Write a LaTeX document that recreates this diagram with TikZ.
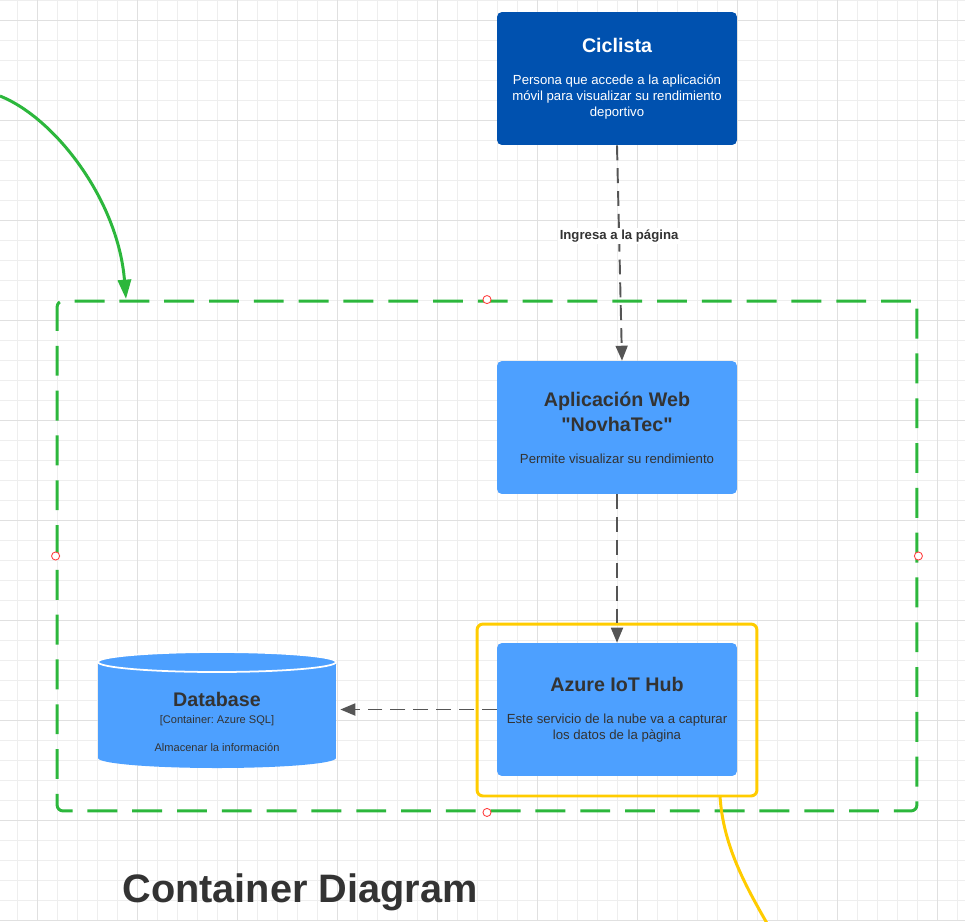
\documentclass[tikz,border=0pt]{standalone}
\usepackage{fontspec}
\setmainfont{Liberation Sans}[Ligatures=TeXOff]
\usetikzlibrary{arrows.meta, positioning, calc}

\definecolor{cicBlue}{RGB}{0,81,175}
\definecolor{boxBlue}{RGB}{77,160,255}
\definecolor{txtDark}{RGB}{51,51,51}
\definecolor{frameGreen}{RGB}{44,183,60}
\definecolor{hubYellow}{RGB}{255,204,0}
\definecolor{lineGray}{RGB}{85,85,85}
\definecolor{gridMinor}{RGB}{238,238,238}
\definecolor{gridMajor}{RGB}{224,224,224}

\newcommand{\bodyfont}{\fontsize{7.5}{9.1}\selectfont}
\newcommand{\headfont}{\fontsize{11.2}{14.2}\selectfont\bfseries}
\newcommand{\smallfont}{\fontsize{6.3}{7.6}\selectfont}
\frenchspacing

\begin{document}
\begin{tikzpicture}[x=0.02cm, y=-0.02cm,
                grid minor/.style={draw=gridMinor, line width=0.45pt},
                grid major/.style={draw=gridMajor, line width=0.45pt},
                person box/.style={rectangle, rounded corners=2.8pt, fill=cicBlue, text=white,
                    minimum width=4.8cm, minimum height=2.66cm, align=center, font=\bodyfont, inner sep=0pt},
                container box/.style={person box, fill=boxBlue, text=txtDark},
                boundary/.style={draw=frameGreen, line width=1.7pt, dash pattern=on 17pt off 8.5pt,
                    rounded corners=3.4pt, minimum width=17.2cm, minimum height=10.2cm},
                focus frame/.style={draw=hubYellow, line width=1.7pt, rounded corners=3.4pt,
                    minimum width=5.6cm, minimum height=3.44cm},
                flow/.style={draw=lineGray, line width=1.1pt, dash pattern=on 8.5pt off 4.5pt,
                    -{Triangle[length=8.5pt, width=6.8pt]}},
                flow label/.style={font=\bodyfont\bfseries, text=txtDark, fill=white, inner sep=1pt},
                handle/.style={draw=red!75!white, fill=white, line width=0.5pt}]
                \useasboundingbox (0,0) rectangle (965,921);
                \clip (0,0) rectangle (965,921);
                \fill[white] (0,0) rectangle (965,921);

                % Background grid
                \foreach \gx in {17.7,37.7,...,965} \draw[grid minor] (\gx,0) -- (\gx,921);
                \foreach \gy in {0,20,...,921} \draw[grid minor] (0,\gy) -- (965,\gy);
                \foreach \gx in {37.7,137.7,...,965} \draw[grid major] (\gx,0) -- (\gx,921);
                \foreach \gy in {20,120,...,921} \draw[grid major] (0,\gy) -- (965,\gy);

                % System boundary
                \node[boundary] (sys) at (487,556) {};
                \foreach \a in {north,south,east,west}
                    \draw[handle] (sys.\a) circle (2.3pt);

                % Person and containers
                \node[person box] (ciclista) at (617,78.5) {{\headfont Ciclista}\\[8.9pt]
                    Persona que accede a la aplicación\\móvil para visualizar su rendimiento\\deportivo};
                \node[container box] (web) at (617,427.5) {{\headfont Aplicación Web}\\[3pt]
                    {\headfont "NovhaTec"}\\[8.9pt]Permite visualizar su rendimiento};
                \node[focus frame] (hubframe) at (617,710) {};
                \node[container box] (hub) at (617,709.5) {{\headfont Azure IoT Hub}\\[8.9pt]
                    Este servicio de la nube va a capturar\\los datos de la pàgina};

                % Database cylinder
                \node[minimum width=4.76cm, minimum height=2.34cm, inner sep=0pt] (db) at (217,709.5) {};
                \fill[boxBlue] (98,662) -- (98,758) arc[start angle=180, end angle=360, x radius=2.38cm, y radius=0.2cm]
                    -- (336,662) arc[start angle=0, end angle=180, x radius=2.38cm, y radius=0.2cm] -- cycle;
                \draw[white, line width=1pt] (217,662) ellipse [x radius=2.38cm, y radius=0.2cm];
                \node[align=center, text=txtDark, font=\smallfont, inner sep=0pt] (dbtext) at (217,722)
                    {{\headfont Database}\\[2.1pt][Container: Azure SQL]\\[8.4pt]Almacenar la información};

                % Relations
                \draw[flow] (ciclista.south) -- ($(web.north)+(5,0)$)
                    node[flow label, pos=0.42] {Ingresa a la página};
                \draw[flow] (web.south) -- (hub.north);
                \draw[flow] (hub.west) -- ($(db.east)+(4,0)$);

                % Incoming and outgoing curves
                \coordinate (feed) at (0,96);
                \coordinate (entry) at (126,299);
                \coordinate (offpage) at (768,925);
                \draw[frameGreen, line width=1.7pt, -{Triangle[length=11pt, width=7.5pt]}]
                    (feed) .. controls (55,118) and (118,200) .. (entry);
                \draw[hubYellow, line width=1.7pt] (720,796) .. controls (723,845) and (745,885) .. (offpage);

                \node[font=\fontsize{22.6}{27}\selectfont\bfseries, text=txtDark] (title) at (300,892) {Container Diagram};
            \end{tikzpicture}
\end{document}
